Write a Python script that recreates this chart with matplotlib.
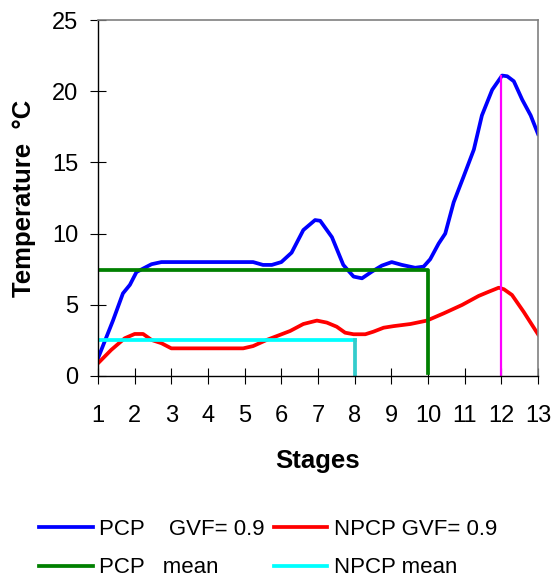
import matplotlib.pyplot as plt

plt.rcParams['font.family'] = ['Liberation Sans', 'DejaVu Sans']

# PCP, GVF = 0.9
pcp_x = [1, 1.41, 1.68, 1.87, 2.05, 2.46, 2.73, 5.23, 5.5, 5.74, 6.0, 6.28, 6.6,
         6.92, 7.06, 7.38, 7.69, 7.97, 8.2, 8.47, 8.74, 9.01, 9.29, 9.65, 9.88,
         10.06, 10.29, 10.47, 10.7, 10.97, 11.25, 11.47, 11.75, 12.02, 12.16,
         12.34, 12.57, 12.8, 13.0]
pcp_y = [1.24, 3.9, 5.8, 6.4, 7.3, 7.85, 8.0, 8.0, 7.8, 7.8, 8.0, 8.66, 10.25,
         10.95, 10.9, 9.75, 7.8, 6.98, 6.86, 7.33, 7.75, 8.0, 7.8, 7.6, 7.68,
         8.2, 9.3, 10.0, 12.2, 14.0, 15.9, 18.3, 20.1, 21.1, 21.05,
         20.7, 19.4, 18.3, 17.0]

# NPCP, GVF = 0.9
npcp_x = [1, 1.36, 1.73, 2.0, 2.23, 2.46, 2.73, 3.0, 4.96, 5.23, 5.6, 6.24, 6.6,
          6.97, 7.24, 7.51, 7.74, 7.97, 8.29, 8.51, 8.79, 9.06, 9.52, 9.97,
          10.43, 10.93, 11.38, 11.66, 11.93, 12.07, 12.29, 12.61, 13.0]
npcp_y = [0.89, 1.83, 2.65, 2.95, 2.95, 2.53, 2.3, 1.94, 1.94, 2.1, 2.53, 3.16,
          3.65, 3.89, 3.75, 3.46, 3.04, 2.93, 2.93, 3.11, 3.39, 3.5, 3.65, 3.89,
          4.4, 4.99, 5.62, 5.92, 6.2, 6.09, 5.69, 4.5, 2.93]

# mean lines
pcp_mean_x = [1, 10, 10]
pcp_mean_y = [7.45, 7.45, 0.2]
npcp_mean_x = [1, 8]
npcp_mean_y = [2.5, 2.5]
npcp_drop_x = [8, 8]
npcp_drop_y = [2.5, 0]
peak_x = [12, 12]
peak_y = [0, 21.1]

fig = plt.figure(figsize=(5.53, 5.82), dpi=100)
ax = fig.add_axes([0.1772, 0.354, 0.7957, 0.6116])

l1, = ax.plot(pcp_x, pcp_y, color='#0000FF', lw=2.7, label='PCP    GVF= 0.9')
l2, = ax.plot(npcp_x, npcp_y, color='#FF0000', lw=2.7, label='NPCP GVF= 0.9')
l3, = ax.plot(pcp_mean_x, pcp_mean_y, color='#008000', lw=2.7, label='PCP   mean')
l4, = ax.plot(npcp_mean_x, npcp_mean_y, color='#00FFFF', lw=2.7, label='NPCP mean')
ax.plot(npcp_drop_x, npcp_drop_y, color='#33CCCC', lw=2.7)
ax.plot(peak_x, peak_y, color='#FF00FF', lw=1.6)

ax.set_xlim(1, 13)
ax.set_ylim(0, 25)
ax.set_xticks(range(1, 14))
ax.set_yticks(range(0, 26, 5))
ax.tick_params(axis='both', direction='inout', labelsize=17, width=0.8)
ax.tick_params(axis='x', length=11, pad=15.5)
ax.tick_params(axis='y', length=12, pad=8)

for s in ['top', 'right']:
    ax.spines[s].set_color('#808080')
    ax.spines[s].set_linewidth(1.2)
for s in ['left', 'bottom']:
    ax.spines[s].set_linewidth(1.0)

ax.set_xlabel('Stages', fontsize=18.5, fontweight='bold', labelpad=15.5)
ax.set_ylabel('Temperature  °C', fontsize=18.5, fontweight='bold', labelpad=11.5)

# column-wise fill: rows read PCP/NPCP GVF, then the two means
fig.legend([l1, l3, l2, l4], [l1.get_label(), l3.get_label(), l2.get_label(), l4.get_label()],
           loc='lower left', bbox_to_anchor=(0.035, -0.028), ncol=2, frameon=False,
           fontsize=16, handlelength=2.4, handletextpad=0.3, columnspacing=0.4,
           labelspacing=0.8)

fig.savefig('out.png', dpi=100)
